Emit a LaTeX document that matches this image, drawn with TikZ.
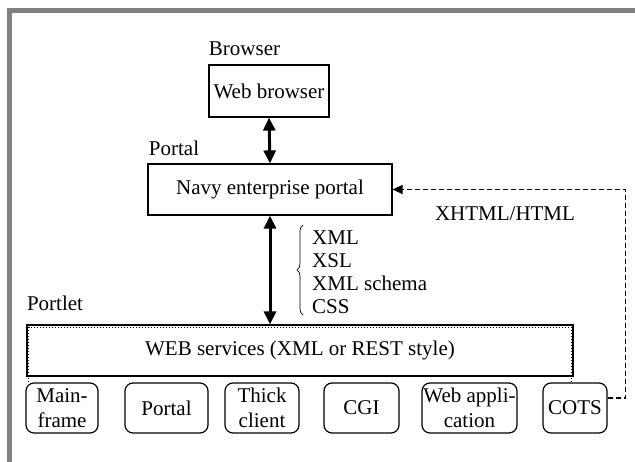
\documentclass[tikz,border=0pt]{standalone}
\usepackage{fontspec}
\setmainfont{Liberation Serif}
\usetikzlibrary{arrows.meta,decorations.pathreplacing}

\tikzset{
    txt/.style={font=\fontsize{21}{24.5}\selectfont, inner sep=0pt},
    layerbox/.style={txt, draw, line width=1.2pt},
    srcbox/.style={txt, draw, line width=1.2pt, rounded corners=8pt, minimum height=50pt, align=center},
    dblarrow/.style={line width=3pt, {Triangle[width=12pt,length=13pt]}-{Triangle[width=12pt,length=13pt]}},
    feedback/.style={line width=1.1pt, dash pattern=on 5pt off 3pt, -{Triangle[width=9pt,length=10pt]}}
}

\begin{document}
\begin{tikzpicture}[x=1pt, y=-1pt]
    \useasboundingbox (0,0) rectangle (635,462);

    % grey frame
    \fill[black!50] (7,8) rectangle (635,13);
    \fill[black!50] (7,8) rectangle (12,462);

    % browser and portal layers
    \node[txt] (browserlbl) at (244.5,49) {Browser};
    \node[layerbox, minimum width=120pt, minimum height=52pt] (web) at (269,91) {Web browser};

    \node[txt] (portallbl) at (174,148) {Portal};
    \node[layerbox, minimum width=244pt, minimum height=51pt] (navy) at (270,189.5) {Navy enterprise portal};

    \node[txt] (xhtml) at (505,214) {XHTML/HTML};

    % portlet layer
    \node[txt] (portletlbl) at (55,303) {Portlet};
    \node[layerbox, minimum width=546pt, minimum height=51pt] (ws) at (300,350.5) {WEB services (XML or REST style)};
    \draw[line width=1pt, dotted] (28.5,382) -- (28.5,327.5) -- (571.5,327.5) -- (571.5,382);

    % sources
    \node[srcbox, minimum width=72pt] (mainframe) at (62,408) {Main-\\frame};
    \node[srcbox, minimum width=83pt] (portal) at (166.5,408) {Portal};
    \node[srcbox, minimum width=74pt] (thick) at (262,408) {Thick\\client};
    \node[srcbox, minimum width=75pt] (cgi) at (361.5,408) {CGI};
    \node[srcbox, minimum width=95pt] (webapp) at (469.5,408) {Web appli-\\cation};
    \node[srcbox, minimum width=64pt] (cots) at (575,408) {COTS};

    % formats
    \node[txt, anchor=west, align=left, font=\fontsize{21}{23}\selectfont] (formats) at (312,272.5) {XML\\XSL\\XML schema\\CSS};
    \draw[line width=0.7pt, decorate, decoration={brace, amplitude=6pt}] (303,315) -- (303,225);

    % connectors
    \draw[dblarrow] (web.south) -- (navy.north);
    \draw[dblarrow] (navy.south) -- (navy.south |- ws.north);
    \draw[feedback] ([yshift=10pt]cots.east) -- ++(18,0) |- (navy.east);
\end{tikzpicture}
\end{document}
